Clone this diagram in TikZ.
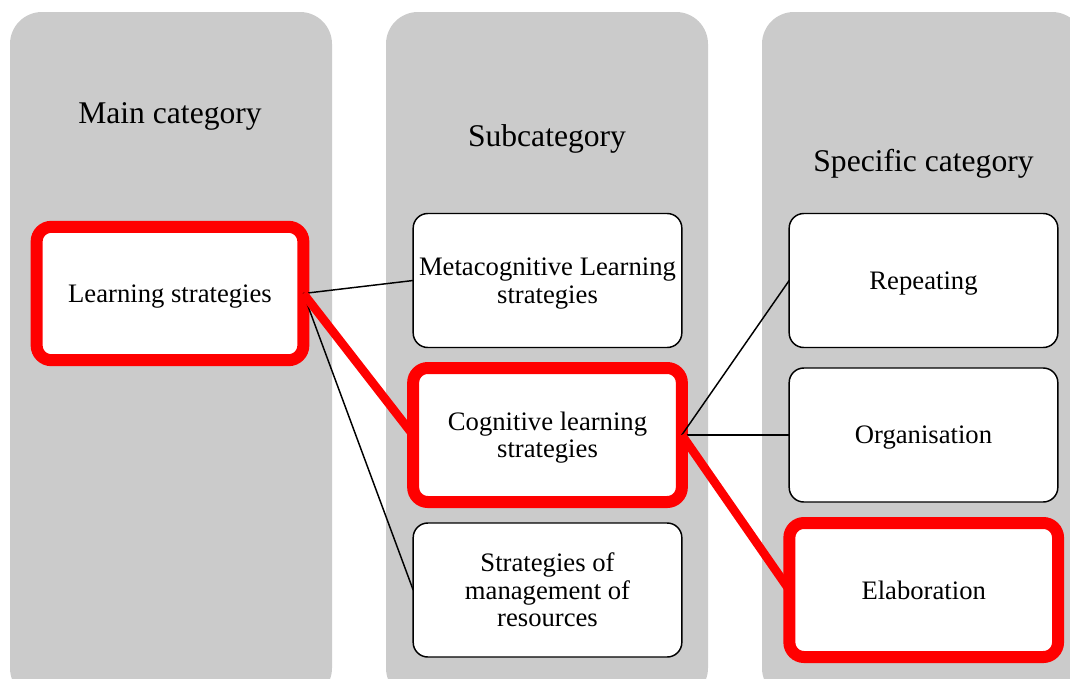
\documentclass[tikz,border=0pt]{standalone}
\usepackage{fontspec}
\setmainfont{Liberation Serif}
\definecolor{colgray}{RGB}{203,203,203}
\definecolor{markred}{RGB}{255,0,0}
\tikzset{
	column/.style={fill=colgray, rounded corners=24pt},
	heading/.style={font=\fontsize{23.7}{28}\selectfont, text depth=0pt},
	catbox/.style={draw=black, line width=1.1pt, fill=white, rounded corners=11pt,
		minimum width=201.5pt, minimum height=100.5pt, inner sep=1pt, outer sep=0pt,
		text depth=0pt, align=center, font=\fontsize{20}{20.6}\selectfont},
	marked/.style={draw=markred, line width=9pt},
	link/.style={draw=black, line width=1.1pt},
	redlink/.style={draw=markred, line width=6.5pt},
}

\begin{document}
\begin{tikzpicture}[x=0.75pt, y=-0.75pt]
			%%%%% START %%%%%
			\useasboundingbox (0,0) rectangle (1070,678);
			\clip (0,0) rectangle (1070,678);
			
			% three grey columns, running off the bottom edge
			\fill[column] (10, 12) rectangle (332, 700);
			\fill[column] (386, 12) rectangle (708, 700);
			\fill[column] (762, 12) rectangle (1084, 700);
			
			\node[heading] (hmain) at (170, 113) {Main category};
			\node[heading] (hsub) at (547, 136) {Subcategory};
			\node[heading] (hspec) at (923.5, 160) {Specific category};
			
			% main category
			\node[catbox, marked, minimum width=200pt, minimum height=100pt] (main) at (170, 293.5) {Learning strategies};
			
			% subcategories
			\node[catbox] (meta) at (547.5, 280.5) {Metacognitive Learning\\strategies};
			\node[catbox, marked] (cogn) at (547.5, 435) {Cognitive learning\\strategies};
			\node[catbox] (resrc) at (547.5, 590) {Strategies of\\management of\\resources};
			
			% specific categories
			\node[catbox] (rep) at (923.5, 280.5) {Repeating};
			\node[catbox] (org) at (923.5, 435) {Organisation};
			\node[catbox, marked] (elab) at (923.7, 590) {Elaboration};
			
			\draw[link] (main.east) -- (meta.west);
			\draw[link] (main.east) -- (resrc.west);
			\draw[redlink] (main.east) -- (cogn.west);
			
			\draw[link] (cogn.east) -- (rep.west);
			\draw[link] (cogn.east) -- (org.west);
			\draw[redlink] (cogn.east) -- (elab.west);
			%%%%% END %%%%%
\end{tikzpicture}
\end{document}
